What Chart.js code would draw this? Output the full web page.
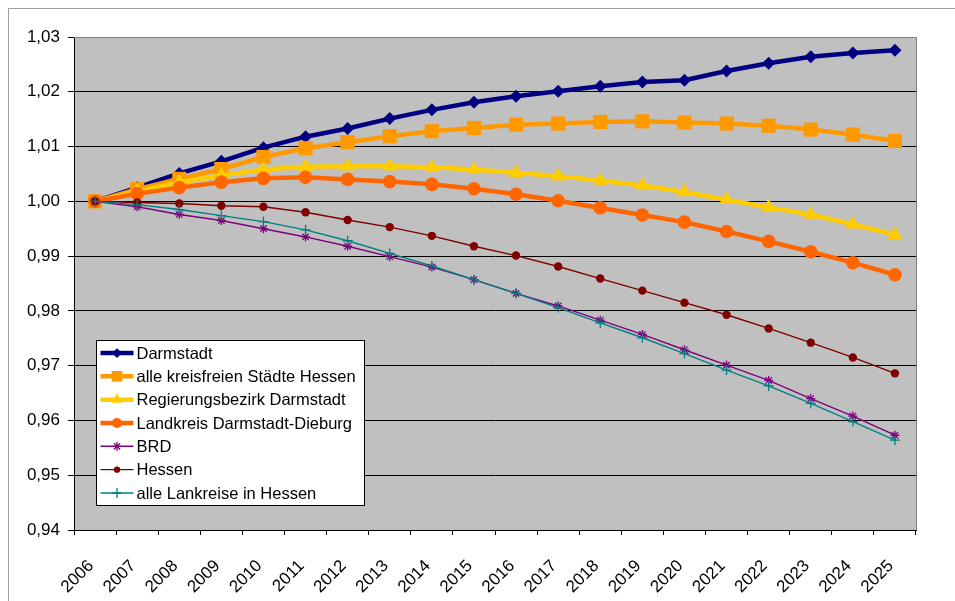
<!DOCTYPE html>
<html>
<head>
<meta charset="utf-8">
<script src="https://cdn.jsdelivr.net/npm/chart.js@4/dist/chart.umd.min.js"></script>
<style>
  html, body { margin: 0; padding: 0; background: #ffffff; }
  canvas { display: block; }
</style>
</head>
<body>
<canvas id="chart" width="955" height="601"></canvas>
<script>
// Bevölkerungsentwicklung, Index 2006 = 1,00
const years = ['2006','2007','2008','2009','2010','2011','2012','2013','2014','2015',
               '2016','2017','2018','2019','2020','2021','2022','2023','2024','2025'];

const darmstadt = [1.0000, 1.0025, 1.0051, 1.0073, 1.0098, 1.0118, 1.0133, 1.0151, 1.0167, 1.0181,
                   1.0192, 1.0201, 1.0210, 1.0218, 1.0221, 1.0238, 1.0252, 1.0264, 1.0271, 1.0276];
const kreisfreieStaedte = [1.0000, 1.0022, 1.0041, 1.0059, 1.0081, 1.0097, 1.0108, 1.0119, 1.0128, 1.0134,
                           1.0140, 1.0142, 1.0145, 1.0146, 1.0144, 1.0142, 1.0138, 1.0131, 1.0122, 1.0110];
const regierungsbezirk = [1.0000, 1.0018, 1.0035, 1.0047, 1.0058, 1.0063, 1.0064, 1.0064, 1.0062, 1.0058,
                          1.0052, 1.0046, 1.0038, 1.0029, 1.0017, 1.0003, 0.9989, 0.9976, 0.9958, 0.9939];
const landkreisDaDi = [1.0000, 1.0014, 1.0025, 1.0035, 1.0042, 1.0044, 1.0040, 1.0036, 1.0031, 1.0023,
                       1.0013, 1.0001, 0.9988, 0.9975, 0.9962, 0.9945, 0.9927, 0.9908, 0.9888, 0.9866];
const brd = [1.0000, 0.9990, 0.9976, 0.9965, 0.9950, 0.9935, 0.9918, 0.9899, 0.9880, 0.9857,
             0.9832, 0.9809, 0.9783, 0.9757, 0.9729, 0.9701, 0.9673, 0.9640, 0.9608, 0.9573];
const hessen = [1.0000, 0.9998, 0.9996, 0.9992, 0.9990, 0.9980, 0.9966, 0.9953, 0.9937, 0.9918,
                0.9901, 0.9881, 0.9859, 0.9837, 0.9815, 0.9793, 0.9768, 0.9742, 0.9715, 0.9686];
const landkreiseHessen = [1.0000, 0.9994, 0.9985, 0.9974, 0.9963, 0.9948, 0.9928, 0.9905, 0.9882, 0.9857,
                          0.9832, 0.9806, 0.9778, 0.9751, 0.9722, 0.9692, 0.9663, 0.9631, 0.9598, 0.9564];

const seriesNames = ['Darmstadt', 'alle kreisfreien Städte Hessen', 'Regierungsbezirk Darmstadt',
                     'Landkreis Darmstadt-Dieburg', 'BRD', 'Hessen', 'alle Lankreise in Hessen'];

const yMin = 0.94, yMax = 1.03, yStep = 0.01;

const FONT = "'Liberation Sans', Arial, sans-serif";
Chart.defaults.font.family = FONT;
Chart.defaults.font.size = 17;
Chart.defaults.color = '#000000';

function series(label, data, color, width, style, radius, idx) {
  const stroked = (style === 'star' || style === 'cross');
  return {
    label, data,
    borderColor: color,
    backgroundColor: color,
    borderWidth: width,
    pointStyle: style,
    pointRadius: radius,
    pointHoverRadius: radius,
    pointBackgroundColor: color,
    pointBorderColor: color,
    pointBorderWidth: stroked ? 1.3 : 0,
    tension: 0,
    fill: false,
    order: 10 - idx,
    legendRadius: stroked ? radius : radius * 0.75
  };
}

const datasets = [
  series(seriesNames[0], darmstadt,         '#000080', 4.5, 'rectRot',  6.5, 0),
  series(seriesNames[1], kreisfreieStaedte, '#FF9900', 4.5, 'rect',     10,  1),
  series(seriesNames[2], regierungsbezirk,  '#FFCC00', 4.5, 'triangle', 8.5, 2),
  series(seriesNames[3], landkreisDaDi,     '#FF6600', 4.5, 'circle',   6.8, 3),
  series(seriesNames[4], brd,               '#800080', 1.4, 'star',     4.5, 4),
  series(seriesNames[5], hessen,            '#800000', 1.4, 'circle',   4.2, 5),
  series(seriesNames[6], landkreiseHessen,  '#008080', 1.4, 'cross',    5,   6)
];

// Rahmen, grauer Zeichnungsbereich
const framePlugin = {
  id: 'frame',
  beforeDraw(chart) {
    const { ctx, chartArea: a } = chart;
    ctx.save();
    ctx.fillStyle = '#ffffff';
    ctx.fillRect(0, 0, chart.width, chart.height);
    ctx.strokeStyle = '#a0a0a0';
    ctx.lineWidth = 1;
    ctx.strokeRect(8.5, 8.5, chart.width + 20, chart.height + 20);
    ctx.fillStyle = '#C0C0C0';
    ctx.fillRect(a.left, a.top, a.right - a.left, a.bottom - a.top);
    ctx.restore();
  },
  beforeDatasetsDraw(chart) {
    const { ctx, chartArea: a } = chart;
    ctx.save();
    ctx.strokeStyle = '#808080';
    ctx.lineWidth = 1;
    ctx.beginPath();
    ctx.moveTo(a.left, Math.round(a.top) + 0.5);
    ctx.lineTo(Math.round(a.right) + 0.5, Math.round(a.top) + 0.5);
    ctx.lineTo(Math.round(a.right) + 0.5, a.bottom);
    ctx.stroke();
    ctx.restore();
  }
};

// Legende im Zeichnungsbereich
const boxLegendPlugin = {
  id: 'boxLegend',
  afterDraw(chart) {
    const { ctx, chartArea: a } = chart;
    const x0 = Math.round(a.left) + 22.5, y0 = Math.round(a.top) + 303.5;
    const w = 268, h = 165, rowH = 23.33;
    ctx.save();
    ctx.fillStyle = '#ffffff';
    ctx.fillRect(x0, y0, w, h);
    ctx.strokeStyle = '#000000';
    ctx.lineWidth = 1;
    ctx.strokeRect(x0, y0, w, h);
    ctx.font = '16.5px ' + FONT;
    ctx.textBaseline = 'middle';
    ctx.textAlign = 'left';
    chart.data.datasets.forEach((ds, i) => {
      const cy = y0 + 12.5 + i * rowH;
      const lx1 = x0 + 4, lx2 = x0 + 37;
      ctx.strokeStyle = ds.borderColor;
      ctx.lineWidth = ds.borderWidth;
      ctx.beginPath();
      ctx.moveTo(lx1, cy);
      ctx.lineTo(lx2, cy);
      ctx.stroke();
      ctx.fillStyle = ds.pointBackgroundColor;
      ctx.strokeStyle = ds.pointBorderColor;
      ctx.lineWidth = ds.pointBorderWidth;
      Chart.helpers.drawPoint(ctx, {
        pointStyle: ds.pointStyle,
        radius: ds.legendRadius,
        rotation: 0,
        borderWidth: ds.pointBorderWidth
      }, (lx1 + lx2) / 2, cy);
      ctx.fillStyle = '#000000';
      ctx.fillText(ds.label, x0 + 40, cy + 1);
    });
    ctx.restore();
  }
};

new Chart(document.getElementById('chart'), {
  type: 'line',
  data: { labels: years, datasets },
  plugins: [framePlugin, boxLegendPlugin],
  options: {
    responsive: false,
    animation: false,
    events: [],
    layout: { padding: { top: 37, right: 39, bottom: 0, left: 0 } },
    plugins: {
      legend: { display: false },
      tooltip: { enabled: false },
      title: { display: false }
    },
    elements: { line: { borderJoinStyle: 'round', borderCapStyle: 'round' } },
    scales: {
      x: {
        type: 'category',
        offset: true,
        afterFit(scale) { scale.height = 71; },
        border: { display: true, color: '#000000', width: 1 },
        grid: {
          offset: true,
          drawOnChartArea: false,
          drawTicks: true,
          tickLength: 5,
          tickColor: '#000000',
          tickWidth: 1
        },
        ticks: {
          minRotation: 45,
          maxRotation: 45,
          autoSkip: false,
          padding: 21,
          labelOffset: -4,
          font: { size: 17 },
          color: '#000000'
        }
      },
      y: {
        min: yMin,
        max: yMax,
        afterFit(scale) { scale.width = 74; },
        border: { display: true, color: '#000000', width: 1 },
        grid: {
          color: (c) => (c.tick && Math.abs(c.tick.value - yMax) < 1e-6) ? '#808080' : '#000000',
          lineWidth: 1,
          drawTicks: true,
          tickLength: 6,
          tickColor: '#000000'
        },
        ticks: {
          stepSize: yStep,
          padding: 8,
          font: { size: 17 },
          color: '#000000',
          callback: (v) => Number(v).toFixed(2).replace('.', ',')
        }
      }
    }
  }
});
</script>
</body>
</html>
